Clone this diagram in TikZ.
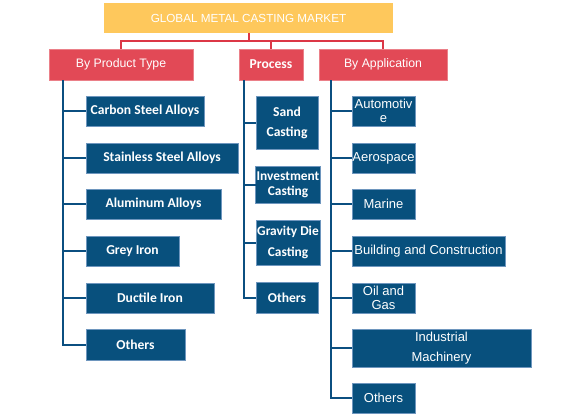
\documentclass[tikz,border=0pt]{standalone}
\usepackage{fontspec}
\setmainfont{Liberation Sans}
\newfontfamily\carlito{Carlito}
\definecolor{myyellow}{RGB}{254,200,92}
\definecolor{myred}{RGB}{226,73,86}
\definecolor{myredline}{RGB}{220,55,70}
\definecolor{myblue}{RGB}{8,80,125}
\definecolor{mybluel}{RGB}{11,79,128}
\definecolor{myedge}{RGB}{110,150,190}
\begin{document}
\begin{tikzpicture}[x=1pt,y=-1pt,
  basebox/.style={inner sep=0pt, outer sep=0pt, align=center, text=white},
  titlebox/.style={basebox, fill=myyellow, font=\fontsize{11.7}{14}\selectfont},
  headbox/.style={basebox, fill=myred, draw=myred!70!white, line width=0.5pt, minimum height=31pt, font=\fontsize{12.3}{15}\selectfont},
  itembox/.style={basebox, fill=myblue, draw=myedge, line width=0.5pt, font=\carlito\bfseries\fontsize{13.6}{20}\selectfont},
  appbox/.style={basebox, fill=myblue, draw=myedge, line width=0.5pt, font=\fontsize{13}{14}\selectfont},
  redline/.style={draw=myredline, line width=2pt},
  blueline/.style={draw=mybluel, line width=2pt}]
\useasboundingbox (0,0) rectangle (583,416);

% title and headings
\node[titlebox, minimum width=289pt, minimum height=30pt] (title) at (248.5,18) {GLOBAL METAL CASTING MARKET};
\node[headbox, minimum width=144pt] (pt) at (121,64.5) {By Product Type};
\node[headbox, minimum width=64pt, font=\carlito\bfseries\fontsize{13.6}{15}\selectfont] (proc) at (271,64.5) {Process};
\node[headbox, minimum width=128pt] (app) at (383,64.5) {By Application};

\coordinate (rj) at (248.5,41);
\draw[redline] (title.south) -- (rj);
\draw[redline] (rj) -| (pt.north);
\draw[redline] (rj) -| (proc.north);
\draw[redline] (rj) -| (app.north);

% product type items
\node[itembox, minimum width=118pt, minimum height=30pt] (c1) at (145,111) {Carbon Steel Alloys};
\node[itembox, minimum width=152pt, minimum height=30pt] (c2) at (162,158) {Stainless Steel Alloys};
\node[itembox, minimum width=135pt, minimum height=30pt] (c3) at (153.5,204) {Aluminum Alloys};
\node[itembox, minimum width=93pt, minimum height=30pt] (c4) at (132.5,251) {Grey Iron};
\node[itembox, minimum width=128pt, minimum height=30pt] (c5) at (150,298) {Ductile Iron};
\node[itembox, minimum width=99pt, minimum height=31pt] (c6) at (135.5,344.5) {Others};

\coordinate (ptl) at (63,80);
\foreach \n in {c1,c2,c3,c4,c5,c6}{\draw[blueline] (ptl) |- (\n.west);}

% process items
\node[itembox, minimum width=62pt, minimum height=53pt] (p1) at (287,122.5) {Sand\\Casting};
\node[itembox, minimum width=65pt, minimum height=37pt, font=\carlito\bfseries\fontsize{13.4}{15}\selectfont] (p2) at (288,184.5) {Investment\\Casting};
\node[itembox, minimum width=64pt, minimum height=45pt, font=\carlito\bfseries\fontsize{13.4}{21}\selectfont] (p3) at (288,242.5) {Gravity Die\\Casting};
\node[itembox, minimum width=62pt, minimum height=31pt] (p4) at (287,297.5) {Others};

\coordinate (prl) at (244,80);
\foreach \n in {p1,p2,p3,p4}{\draw[blueline] (prl) |- (\n.west);}

% application items
\node[appbox, minimum width=63pt, minimum height=30pt] (a1) at (383.5,111) {Automotiv\\e};
\node[appbox, minimum width=63pt, minimum height=30pt] (a2) at (383.5,158) {Aerospace};
\node[appbox, minimum width=63pt, minimum height=30pt] (a3) at (383.5,204) {Marine};
\node[appbox, minimum width=153pt, minimum height=30pt] (a4) at (428.5,251) {Building and Construction};
\node[appbox, minimum width=63pt, minimum height=30pt, font=\fontsize{13}{13.5}\selectfont] (a5) at (383.5,298) {Oil and\\Gas};
\node[appbox, minimum width=179pt, minimum height=38pt, font=\fontsize{13}{20}\selectfont] (a6) at (441.5,348) {Industrial\\Machinery};
\node[appbox, minimum width=63pt, minimum height=30pt] (a7) at (383.5,398) {Others};

\coordinate (apl) at (331,80);
\foreach \n in {a1,a2,a3,a4,a5,a6,a7}{\draw[blueline] (apl) |- (\n.west);}
\end{tikzpicture}
\end{document}
